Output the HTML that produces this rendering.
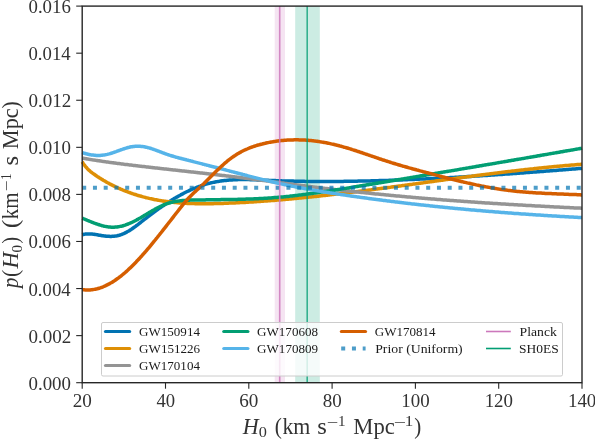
<!DOCTYPE html>
<html><head><meta charset="utf-8"><style>
html,body{margin:0;padding:0;background:#fff;}
body{width:595px;height:439px;overflow:hidden;font-family:"Liberation Serif", serif;}
svg{display:block;will-change:transform;}
</style></head><body>
<svg width="595" height="439" viewBox="0 0 595 439">
<rect width="595" height="439" fill="#fff"/>
<rect x="274.7" y="6.1" width="10.300000000000011" height="376.59999999999997" fill="#cc78bc" fill-opacity="0.2"/>
<rect x="295.2" y="6.1" width="24.600000000000023" height="376.59999999999997" fill="#029e73" fill-opacity="0.2"/>
<g fill="none" stroke-width="3.5" stroke-linejoin="round" stroke-linecap="butt">
<path d="M82.2,234.8 L83.2,234.5 L84.2,234.3 L85.2,234.1 L86.2,234.0 L87.2,233.9 L88.2,233.9 L89.2,233.9 L90.2,233.9 L91.2,234.0 L92.2,234.1 L93.2,234.2 L94.2,234.3 L95.2,234.5 L96.2,234.6 L97.2,234.8 L98.2,235.0 L99.2,235.2 L100.2,235.3 L101.2,235.5 L102.2,235.7 L103.2,235.8 L104.2,235.9 L105.2,236.0 L106.2,236.2 L107.2,236.2 L108.2,236.3 L109.2,236.3 L110.2,236.4 L111.2,236.4 L112.2,236.3 L113.2,236.3 L114.2,236.2 L115.2,236.1 L116.2,235.9 L117.2,235.8 L118.2,235.5 L119.2,235.3 L120.2,235.0 L121.2,234.6 L122.2,234.3 L123.2,233.8 L124.2,233.4 L125.2,232.9 L126.2,232.4 L127.2,231.8 L128.2,231.3 L129.2,230.7 L130.2,230.0 L131.2,229.4 L132.2,228.7 L133.2,228.0 L134.2,227.3 L135.2,226.6 L136.2,225.8 L137.2,225.1 L138.2,224.3 L139.2,223.5 L140.2,222.8 L141.2,222.0 L142.2,221.2 L143.2,220.4 L144.2,219.6 L145.2,218.9 L146.2,218.1 L147.2,217.3 L148.2,216.5 L149.2,215.8 L150.2,215.0 L151.2,214.3 L152.2,213.5 L153.2,212.8 L154.2,212.0 L155.2,211.3 L156.2,210.6 L157.2,209.9 L158.2,209.1 L159.2,208.4 L160.2,207.7 L161.2,207.0 L162.2,206.3 L163.2,205.7 L164.2,205.0 L165.2,204.3 L166.2,203.7 L167.2,203.0 L168.2,202.4 L169.2,201.7 L170.2,201.1 L171.2,200.5 L172.2,199.8 L173.2,199.2 L174.2,198.6 L175.2,198.0 L176.2,197.4 L177.2,196.9 L178.2,196.3 L179.2,195.7 L180.2,195.2 L181.2,194.6 L182.2,194.1 L183.2,193.6 L184.2,193.0 L185.2,192.5 L186.2,192.0 L187.2,191.5 L188.2,191.1 L189.2,190.6 L190.2,190.1 L191.2,189.7 L192.2,189.2 L193.2,188.8 L194.2,188.4 L195.2,188.0 L196.2,187.6 L197.2,187.2 L198.2,186.8 L199.2,186.4 L200.2,186.1 L201.2,185.7 L202.2,185.4 L203.2,185.0 L204.2,184.7 L205.2,184.4 L206.2,184.1 L207.2,183.8 L208.2,183.6 L209.2,183.3 L210.2,183.1 L211.2,182.8 L212.2,182.6 L213.2,182.4 L214.2,182.2 L215.2,182.0 L216.2,181.8 L217.2,181.6 L218.2,181.4 L219.2,181.3 L220.2,181.1 L221.2,181.0 L222.2,180.8 L223.2,180.7 L224.2,180.6 L225.2,180.5 L226.2,180.4 L227.2,180.3 L228.2,180.2 L229.2,180.1 L230.2,180.0 L231.2,180.0 L232.2,179.9 L233.2,179.8 L234.2,179.8 L235.2,179.8 L236.2,179.7 L237.2,179.7 L238.2,179.6 L239.2,179.6 L240.2,179.6 L241.2,179.6 L242.2,179.6 L243.2,179.6 L244.2,179.6 L245.2,179.6 L246.2,179.6 L247.2,179.6 L248.2,179.6 L249.2,179.6 L250.2,179.7 L251.2,179.7 L252.2,179.7 L253.2,179.7 L254.2,179.8 L255.2,179.8 L256.2,179.8 L257.2,179.9 L258.2,179.9 L259.2,180.0 L260.2,180.0 L261.2,180.0 L262.2,180.1 L263.2,180.1 L264.2,180.2 L265.2,180.2 L266.2,180.3 L267.2,180.3 L268.2,180.3 L269.2,180.4 L270.2,180.4 L271.2,180.5 L272.2,180.5 L273.2,180.5 L274.2,180.6 L275.2,180.6 L276.2,180.7 L277.2,180.7 L278.2,180.7 L279.2,180.8 L280.2,180.8 L281.2,180.8 L282.2,180.9 L283.2,180.9 L284.2,180.9 L285.2,180.9 L286.2,181.0 L287.2,181.0 L288.2,181.0 L289.2,181.1 L290.2,181.1 L291.2,181.1 L292.2,181.1 L293.2,181.1 L294.2,181.2 L295.2,181.2 L296.2,181.2 L297.2,181.2 L298.2,181.2 L299.2,181.3 L300.2,181.3 L301.2,181.3 L302.2,181.3 L303.2,181.3 L304.2,181.3 L305.2,181.4 L306.2,181.4 L307.2,181.4 L308.2,181.4 L309.2,181.4 L310.2,181.4 L311.2,181.4 L312.2,181.4 L313.2,181.4 L314.2,181.4 L315.2,181.4 L316.2,181.5 L317.2,181.5 L318.2,181.5 L319.2,181.5 L320.2,181.5 L321.2,181.5 L322.2,181.5 L323.2,181.5 L324.2,181.5 L325.2,181.5 L326.2,181.5 L327.2,181.5 L328.2,181.5 L329.2,181.5 L330.2,181.5 L331.2,181.5 L332.2,181.5 L333.2,181.4 L334.2,181.4 L335.2,181.4 L336.2,181.4 L337.2,181.4 L338.2,181.4 L339.2,181.4 L340.2,181.4 L341.2,181.4 L342.2,181.4 L343.2,181.4 L344.2,181.3 L345.2,181.3 L346.2,181.3 L347.2,181.3 L348.2,181.3 L349.2,181.3 L350.2,181.3 L351.2,181.3 L352.2,181.2 L353.2,181.2 L354.2,181.2 L355.2,181.2 L356.2,181.2 L357.2,181.2 L358.2,181.1 L359.2,181.1 L360.2,181.1 L361.2,181.1 L362.2,181.1 L363.2,181.0 L364.2,181.0 L365.2,181.0 L366.2,181.0 L367.2,180.9 L368.2,180.9 L369.2,180.9 L370.2,180.9 L371.2,180.8 L372.2,180.8 L373.2,180.8 L374.2,180.8 L375.2,180.7 L376.2,180.7 L377.2,180.7 L378.2,180.7 L379.2,180.6 L380.2,180.6 L381.2,180.6 L382.2,180.5 L383.2,180.5 L384.2,180.5 L385.2,180.5 L386.2,180.4 L387.2,180.4 L388.2,180.4 L389.2,180.3 L390.2,180.3 L391.2,180.3 L392.2,180.2 L393.2,180.2 L394.2,180.2 L395.2,180.1 L396.2,180.1 L397.2,180.0 L398.2,180.0 L399.2,180.0 L400.2,179.9 L401.2,179.9 L402.2,179.9 L403.2,179.8 L404.2,179.8 L405.2,179.7 L406.2,179.7 L407.2,179.7 L408.2,179.6 L409.2,179.6 L410.2,179.5 L411.2,179.5 L412.2,179.5 L413.2,179.4 L414.2,179.4 L415.2,179.3 L416.2,179.3 L417.2,179.2 L418.2,179.2 L419.2,179.2 L420.2,179.1 L421.2,179.1 L422.2,179.0 L423.2,179.0 L424.2,178.9 L425.2,178.9 L426.2,178.8 L427.2,178.8 L428.2,178.7 L429.2,178.7 L430.2,178.6 L431.2,178.6 L432.2,178.5 L433.2,178.5 L434.2,178.4 L435.2,178.4 L436.2,178.3 L437.2,178.3 L438.2,178.2 L439.2,178.2 L440.2,178.1 L441.2,178.1 L442.2,178.0 L443.2,178.0 L444.2,177.9 L445.2,177.9 L446.2,177.8 L447.2,177.8 L448.2,177.7 L449.2,177.7 L450.2,177.6 L451.2,177.5 L452.2,177.5 L453.2,177.4 L454.2,177.4 L455.2,177.3 L456.2,177.3 L457.2,177.2 L458.2,177.2 L459.2,177.1 L460.2,177.0 L461.2,177.0 L462.2,176.9 L463.2,176.9 L464.2,176.8 L465.2,176.7 L466.2,176.7 L467.2,176.6 L468.2,176.6 L469.2,176.5 L470.2,176.4 L471.2,176.4 L472.2,176.3 L473.2,176.3 L474.2,176.2 L475.2,176.1 L476.2,176.1 L477.2,176.0 L478.2,175.9 L479.2,175.9 L480.2,175.8 L481.2,175.8 L482.2,175.7 L483.2,175.6 L484.2,175.6 L485.2,175.5 L486.2,175.4 L487.2,175.4 L488.2,175.3 L489.2,175.2 L490.2,175.2 L491.2,175.1 L492.2,175.0 L493.2,175.0 L494.2,174.9 L495.2,174.8 L496.2,174.8 L497.2,174.7 L498.2,174.6 L499.2,174.6 L500.2,174.5 L501.2,174.4 L502.2,174.4 L503.2,174.3 L504.2,174.2 L505.2,174.1 L506.2,174.1 L507.2,174.0 L508.2,173.9 L509.2,173.9 L510.2,173.8 L511.2,173.7 L512.2,173.7 L513.2,173.6 L514.2,173.5 L515.2,173.4 L516.2,173.4 L517.2,173.3 L518.2,173.2 L519.2,173.2 L520.2,173.1 L521.2,173.0 L522.2,172.9 L523.2,172.9 L524.2,172.8 L525.2,172.7 L526.2,172.6 L527.2,172.6 L528.2,172.5 L529.2,172.4 L530.2,172.3 L531.2,172.3 L532.2,172.2 L533.2,172.1 L534.2,172.0 L535.2,172.0 L536.2,171.9 L537.2,171.8 L538.2,171.7 L539.2,171.7 L540.2,171.6 L541.2,171.5 L542.2,171.4 L543.2,171.4 L544.2,171.3 L545.2,171.2 L546.2,171.1 L547.2,171.1 L548.2,171.0 L549.2,170.9 L550.2,170.8 L551.2,170.8 L552.2,170.7 L553.2,170.6 L554.2,170.5 L555.2,170.4 L556.2,170.4 L557.2,170.3 L558.2,170.2 L559.2,170.1 L560.2,170.1 L561.2,170.0 L562.2,169.9 L563.2,169.8 L564.2,169.7 L565.2,169.7 L566.2,169.6 L567.2,169.5 L568.2,169.4 L569.2,169.3 L570.2,169.3 L571.2,169.2 L572.2,169.1 L573.2,169.0 L574.2,168.9 L575.2,168.9 L576.2,168.8 L577.2,168.7 L578.2,168.6 L579.2,168.5 L580.2,168.5 L581.2,168.4 L582.0,168.3" stroke="#0173b2"/>
<path d="M82.2,161.8 L83.2,163.4 L84.2,164.8 L85.2,166.1 L86.2,167.3 L87.2,168.4 L88.2,169.4 L89.2,170.4 L90.2,171.3 L91.2,172.1 L92.2,172.9 L93.2,173.6 L94.2,174.3 L95.2,175.0 L96.2,175.7 L97.2,176.4 L98.2,177.0 L99.2,177.7 L100.2,178.3 L101.2,178.9 L102.2,179.5 L103.2,180.2 L104.2,180.7 L105.2,181.3 L106.2,181.9 L107.2,182.5 L108.2,183.0 L109.2,183.6 L110.2,184.1 L111.2,184.6 L112.2,185.1 L113.2,185.6 L114.2,186.1 L115.2,186.6 L116.2,187.1 L117.2,187.5 L118.2,188.0 L119.2,188.4 L120.2,188.9 L121.2,189.3 L122.2,189.7 L123.2,190.2 L124.2,190.6 L125.2,191.0 L126.2,191.3 L127.2,191.7 L128.2,192.1 L129.2,192.5 L130.2,192.8 L131.2,193.2 L132.2,193.5 L133.2,193.9 L134.2,194.2 L135.2,194.5 L136.2,194.8 L137.2,195.2 L138.2,195.5 L139.2,195.8 L140.2,196.0 L141.2,196.3 L142.2,196.6 L143.2,196.9 L144.2,197.1 L145.2,197.4 L146.2,197.7 L147.2,197.9 L148.2,198.1 L149.2,198.4 L150.2,198.6 L151.2,198.8 L152.2,199.0 L153.2,199.2 L154.2,199.5 L155.2,199.7 L156.2,199.8 L157.2,200.0 L158.2,200.2 L159.2,200.4 L160.2,200.6 L161.2,200.7 L162.2,200.9 L163.2,201.0 L164.2,201.2 L165.2,201.3 L166.2,201.5 L167.2,201.6 L168.2,201.7 L169.2,201.9 L170.2,202.0 L171.2,202.1 L172.2,202.2 L173.2,202.3 L174.2,202.4 L175.2,202.5 L176.2,202.6 L177.2,202.7 L178.2,202.8 L179.2,202.9 L180.2,202.9 L181.2,203.0 L182.2,203.1 L183.2,203.2 L184.2,203.2 L185.2,203.3 L186.2,203.3 L187.2,203.4 L188.2,203.4 L189.2,203.5 L190.2,203.5 L191.2,203.5 L192.2,203.6 L193.2,203.6 L194.2,203.6 L195.2,203.7 L196.2,203.7 L197.2,203.7 L198.2,203.7 L199.2,203.7 L200.2,203.7 L201.2,203.7 L202.2,203.8 L203.2,203.8 L204.2,203.8 L205.2,203.8 L206.2,203.7 L207.2,203.7 L208.2,203.7 L209.2,203.7 L210.2,203.7 L211.2,203.7 L212.2,203.7 L213.2,203.7 L214.2,203.6 L215.2,203.6 L216.2,203.6 L217.2,203.6 L218.2,203.5 L219.2,203.5 L220.2,203.5 L221.2,203.4 L222.2,203.4 L223.2,203.4 L224.2,203.3 L225.2,203.3 L226.2,203.3 L227.2,203.2 L228.2,203.2 L229.2,203.1 L230.2,203.1 L231.2,203.1 L232.2,203.0 L233.2,203.0 L234.2,202.9 L235.2,202.9 L236.2,202.8 L237.2,202.8 L238.2,202.7 L239.2,202.7 L240.2,202.6 L241.2,202.6 L242.2,202.5 L243.2,202.5 L244.2,202.4 L245.2,202.4 L246.2,202.3 L247.2,202.2 L248.2,202.2 L249.2,202.1 L250.2,202.1 L251.2,202.0 L252.2,201.9 L253.2,201.9 L254.2,201.8 L255.2,201.7 L256.2,201.7 L257.2,201.6 L258.2,201.5 L259.2,201.5 L260.2,201.4 L261.2,201.3 L262.2,201.3 L263.2,201.2 L264.2,201.1 L265.2,201.0 L266.2,201.0 L267.2,200.9 L268.2,200.8 L269.2,200.7 L270.2,200.7 L271.2,200.6 L272.2,200.5 L273.2,200.4 L274.2,200.4 L275.2,200.3 L276.2,200.2 L277.2,200.1 L278.2,200.0 L279.2,199.9 L280.2,199.9 L281.2,199.8 L282.2,199.7 L283.2,199.6 L284.2,199.5 L285.2,199.4 L286.2,199.3 L287.2,199.2 L288.2,199.2 L289.2,199.1 L290.2,199.0 L291.2,198.9 L292.2,198.8 L293.2,198.7 L294.2,198.6 L295.2,198.5 L296.2,198.4 L297.2,198.3 L298.2,198.2 L299.2,198.1 L300.2,198.0 L301.2,197.9 L302.2,197.8 L303.2,197.7 L304.2,197.6 L305.2,197.5 L306.2,197.4 L307.2,197.3 L308.2,197.2 L309.2,197.1 L310.2,197.0 L311.2,196.9 L312.2,196.8 L313.2,196.7 L314.2,196.6 L315.2,196.5 L316.2,196.4 L317.2,196.3 L318.2,196.2 L319.2,196.0 L320.2,195.9 L321.2,195.8 L322.2,195.7 L323.2,195.6 L324.2,195.5 L325.2,195.4 L326.2,195.3 L327.2,195.2 L328.2,195.0 L329.2,194.9 L330.2,194.8 L331.2,194.7 L332.2,194.6 L333.2,194.5 L334.2,194.3 L335.2,194.2 L336.2,194.1 L337.2,194.0 L338.2,193.9 L339.2,193.8 L340.2,193.6 L341.2,193.5 L342.2,193.4 L343.2,193.3 L344.2,193.2 L345.2,193.0 L346.2,192.9 L347.2,192.8 L348.2,192.7 L349.2,192.6 L350.2,192.4 L351.2,192.3 L352.2,192.2 L353.2,192.1 L354.2,191.9 L355.2,191.8 L356.2,191.7 L357.2,191.6 L358.2,191.4 L359.2,191.3 L360.2,191.2 L361.2,191.0 L362.2,190.9 L363.2,190.8 L364.2,190.7 L365.2,190.5 L366.2,190.4 L367.2,190.3 L368.2,190.2 L369.2,190.0 L370.2,189.9 L371.2,189.8 L372.2,189.6 L373.2,189.5 L374.2,189.4 L375.2,189.2 L376.2,189.1 L377.2,189.0 L378.2,188.8 L379.2,188.7 L380.2,188.6 L381.2,188.5 L382.2,188.3 L383.2,188.2 L384.2,188.1 L385.2,187.9 L386.2,187.8 L387.2,187.7 L388.2,187.5 L389.2,187.4 L390.2,187.3 L391.2,187.1 L392.2,187.0 L393.2,186.8 L394.2,186.7 L395.2,186.6 L396.2,186.4 L397.2,186.3 L398.2,186.2 L399.2,186.0 L400.2,185.9 L401.2,185.8 L402.2,185.6 L403.2,185.5 L404.2,185.4 L405.2,185.2 L406.2,185.1 L407.2,184.9 L408.2,184.8 L409.2,184.7 L410.2,184.5 L411.2,184.4 L412.2,184.3 L413.2,184.1 L414.2,184.0 L415.2,183.9 L416.2,183.7 L417.2,183.6 L418.2,183.4 L419.2,183.3 L420.2,183.2 L421.2,183.0 L422.2,182.9 L423.2,182.8 L424.2,182.6 L425.2,182.5 L426.2,182.3 L427.2,182.2 L428.2,182.1 L429.2,181.9 L430.2,181.8 L431.2,181.7 L432.2,181.5 L433.2,181.4 L434.2,181.3 L435.2,181.1 L436.2,181.0 L437.2,180.8 L438.2,180.7 L439.2,180.6 L440.2,180.4 L441.2,180.3 L442.2,180.2 L443.2,180.0 L444.2,179.9 L445.2,179.7 L446.2,179.6 L447.2,179.5 L448.2,179.3 L449.2,179.2 L450.2,179.1 L451.2,178.9 L452.2,178.8 L453.2,178.7 L454.2,178.5 L455.2,178.4 L456.2,178.3 L457.2,178.1 L458.2,178.0 L459.2,177.9 L460.2,177.7 L461.2,177.6 L462.2,177.5 L463.2,177.3 L464.2,177.2 L465.2,177.1 L466.2,176.9 L467.2,176.8 L468.2,176.7 L469.2,176.5 L470.2,176.4 L471.2,176.3 L472.2,176.1 L473.2,176.0 L474.2,175.9 L475.2,175.7 L476.2,175.6 L477.2,175.5 L478.2,175.3 L479.2,175.2 L480.2,175.1 L481.2,175.0 L482.2,174.8 L483.2,174.7 L484.2,174.6 L485.2,174.4 L486.2,174.3 L487.2,174.2 L488.2,174.1 L489.2,173.9 L490.2,173.8 L491.2,173.7 L492.2,173.6 L493.2,173.4 L494.2,173.3 L495.2,173.2 L496.2,173.1 L497.2,172.9 L498.2,172.8 L499.2,172.7 L500.2,172.6 L501.2,172.4 L502.2,172.3 L503.2,172.2 L504.2,172.1 L505.2,172.0 L506.2,171.8 L507.2,171.7 L508.2,171.6 L509.2,171.5 L510.2,171.4 L511.2,171.2 L512.2,171.1 L513.2,171.0 L514.2,170.9 L515.2,170.8 L516.2,170.7 L517.2,170.5 L518.2,170.4 L519.2,170.3 L520.2,170.2 L521.2,170.1 L522.2,170.0 L523.2,169.9 L524.2,169.7 L525.2,169.6 L526.2,169.5 L527.2,169.4 L528.2,169.3 L529.2,169.2 L530.2,169.1 L531.2,169.0 L532.2,168.9 L533.2,168.8 L534.2,168.6 L535.2,168.5 L536.2,168.4 L537.2,168.3 L538.2,168.2 L539.2,168.1 L540.2,168.0 L541.2,167.9 L542.2,167.8 L543.2,167.7 L544.2,167.6 L545.2,167.5 L546.2,167.4 L547.2,167.3 L548.2,167.2 L549.2,167.1 L550.2,167.0 L551.2,166.9 L552.2,166.8 L553.2,166.7 L554.2,166.6 L555.2,166.5 L556.2,166.4 L557.2,166.3 L558.2,166.3 L559.2,166.2 L560.2,166.1 L561.2,166.0 L562.2,165.9 L563.2,165.8 L564.2,165.7 L565.2,165.6 L566.2,165.5 L567.2,165.4 L568.2,165.4 L569.2,165.3 L570.2,165.2 L571.2,165.1 L572.2,165.0 L573.2,164.9 L574.2,164.9 L575.2,164.8 L576.2,164.7 L577.2,164.6 L578.2,164.5 L579.2,164.5 L580.2,164.4 L581.2,164.3 L582.0,164.3" stroke="#de8f05"/>
<path d="M82.2,158.1 L83.2,158.3 L84.2,158.5 L85.2,158.6 L86.2,158.8 L87.2,159.0 L88.2,159.1 L89.2,159.3 L90.2,159.4 L91.2,159.6 L92.2,159.8 L93.2,159.9 L94.2,160.1 L95.2,160.2 L96.2,160.4 L97.2,160.5 L98.2,160.7 L99.2,160.8 L100.2,161.0 L101.2,161.1 L102.2,161.3 L103.2,161.4 L104.2,161.6 L105.2,161.7 L106.2,161.9 L107.2,162.0 L108.2,162.1 L109.2,162.3 L110.2,162.4 L111.2,162.6 L112.2,162.7 L113.2,162.8 L114.2,163.0 L115.2,163.1 L116.2,163.2 L117.2,163.4 L118.2,163.5 L119.2,163.6 L120.2,163.7 L121.2,163.9 L122.2,164.0 L123.2,164.1 L124.2,164.3 L125.2,164.4 L126.2,164.5 L127.2,164.6 L128.2,164.7 L129.2,164.9 L130.2,165.0 L131.2,165.1 L132.2,165.2 L133.2,165.4 L134.2,165.5 L135.2,165.6 L136.2,165.7 L137.2,165.8 L138.2,165.9 L139.2,166.1 L140.2,166.2 L141.2,166.3 L142.2,166.4 L143.2,166.5 L144.2,166.6 L145.2,166.7 L146.2,166.9 L147.2,167.0 L148.2,167.1 L149.2,167.2 L150.2,167.3 L151.2,167.4 L152.2,167.5 L153.2,167.7 L154.2,167.8 L155.2,167.9 L156.2,168.0 L157.2,168.1 L158.2,168.2 L159.2,168.3 L160.2,168.4 L161.2,168.6 L162.2,168.7 L163.2,168.8 L164.2,168.9 L165.2,169.0 L166.2,169.1 L167.2,169.2 L168.2,169.3 L169.2,169.4 L170.2,169.6 L171.2,169.7 L172.2,169.8 L173.2,169.9 L174.2,170.0 L175.2,170.1 L176.2,170.2 L177.2,170.3 L178.2,170.4 L179.2,170.5 L180.2,170.7 L181.2,170.8 L182.2,170.9 L183.2,171.0 L184.2,171.1 L185.2,171.2 L186.2,171.3 L187.2,171.4 L188.2,171.5 L189.2,171.7 L190.2,171.8 L191.2,171.9 L192.2,172.0 L193.2,172.1 L194.2,172.2 L195.2,172.3 L196.2,172.4 L197.2,172.5 L198.2,172.7 L199.2,172.8 L200.2,172.9 L201.2,173.0 L202.2,173.1 L203.2,173.2 L204.2,173.3 L205.2,173.4 L206.2,173.5 L207.2,173.7 L208.2,173.8 L209.2,173.9 L210.2,174.0 L211.2,174.1 L212.2,174.2 L213.2,174.3 L214.2,174.5 L215.2,174.6 L216.2,174.7 L217.2,174.8 L218.2,174.9 L219.2,175.0 L220.2,175.2 L221.2,175.3 L222.2,175.4 L223.2,175.5 L224.2,175.6 L225.2,175.7 L226.2,175.9 L227.2,176.0 L228.2,176.1 L229.2,176.2 L230.2,176.3 L231.2,176.4 L232.2,176.6 L233.2,176.7 L234.2,176.8 L235.2,176.9 L236.2,177.0 L237.2,177.2 L238.2,177.3 L239.2,177.4 L240.2,177.5 L241.2,177.7 L242.2,177.8 L243.2,177.9 L244.2,178.0 L245.2,178.2 L246.2,178.3 L247.2,178.4 L248.2,178.5 L249.2,178.7 L250.2,178.8 L251.2,178.9 L252.2,179.0 L253.2,179.2 L254.2,179.3 L255.2,179.4 L256.2,179.6 L257.2,179.7 L258.2,179.8 L259.2,179.9 L260.2,180.1 L261.2,180.2 L262.2,180.3 L263.2,180.5 L264.2,180.6 L265.2,180.7 L266.2,180.9 L267.2,181.0 L268.2,181.1 L269.2,181.3 L270.2,181.4 L271.2,181.5 L272.2,181.7 L273.2,181.8 L274.2,181.9 L275.2,182.1 L276.2,182.2 L277.2,182.3 L278.2,182.5 L279.2,182.6 L280.2,182.7 L281.2,182.9 L282.2,183.0 L283.2,183.1 L284.2,183.2 L285.2,183.4 L286.2,183.5 L287.2,183.6 L288.2,183.8 L289.2,183.9 L290.2,184.0 L291.2,184.2 L292.2,184.3 L293.2,184.4 L294.2,184.6 L295.2,184.7 L296.2,184.8 L297.2,184.9 L298.2,185.1 L299.2,185.2 L300.2,185.3 L301.2,185.4 L302.2,185.6 L303.2,185.7 L304.2,185.8 L305.2,186.0 L306.2,186.1 L307.2,186.2 L308.2,186.3 L309.2,186.5 L310.2,186.6 L311.2,186.7 L312.2,186.8 L313.2,186.9 L314.2,187.1 L315.2,187.2 L316.2,187.3 L317.2,187.4 L318.2,187.6 L319.2,187.7 L320.2,187.8 L321.2,187.9 L322.2,188.0 L323.2,188.2 L324.2,188.3 L325.2,188.4 L326.2,188.5 L327.2,188.6 L328.2,188.7 L329.2,188.9 L330.2,189.0 L331.2,189.1 L332.2,189.2 L333.2,189.3 L334.2,189.4 L335.2,189.6 L336.2,189.7 L337.2,189.8 L338.2,189.9 L339.2,190.0 L340.2,190.1 L341.2,190.2 L342.2,190.4 L343.2,190.5 L344.2,190.6 L345.2,190.7 L346.2,190.8 L347.2,190.9 L348.2,191.0 L349.2,191.1 L350.2,191.2 L351.2,191.3 L352.2,191.5 L353.2,191.6 L354.2,191.7 L355.2,191.8 L356.2,191.9 L357.2,192.0 L358.2,192.1 L359.2,192.2 L360.2,192.3 L361.2,192.4 L362.2,192.5 L363.2,192.6 L364.2,192.7 L365.2,192.8 L366.2,192.9 L367.2,193.0 L368.2,193.1 L369.2,193.2 L370.2,193.3 L371.2,193.4 L372.2,193.6 L373.2,193.7 L374.2,193.8 L375.2,193.9 L376.2,194.0 L377.2,194.1 L378.2,194.1 L379.2,194.2 L380.2,194.3 L381.2,194.4 L382.2,194.5 L383.2,194.6 L384.2,194.7 L385.2,194.8 L386.2,194.9 L387.2,195.0 L388.2,195.1 L389.2,195.2 L390.2,195.3 L391.2,195.4 L392.2,195.5 L393.2,195.6 L394.2,195.7 L395.2,195.8 L396.2,195.9 L397.2,196.0 L398.2,196.1 L399.2,196.1 L400.2,196.2 L401.2,196.3 L402.2,196.4 L403.2,196.5 L404.2,196.6 L405.2,196.7 L406.2,196.8 L407.2,196.9 L408.2,197.0 L409.2,197.0 L410.2,197.1 L411.2,197.2 L412.2,197.3 L413.2,197.4 L414.2,197.5 L415.2,197.6 L416.2,197.7 L417.2,197.7 L418.2,197.8 L419.2,197.9 L420.2,198.0 L421.2,198.1 L422.2,198.2 L423.2,198.2 L424.2,198.3 L425.2,198.4 L426.2,198.5 L427.2,198.6 L428.2,198.7 L429.2,198.7 L430.2,198.8 L431.2,198.9 L432.2,199.0 L433.2,199.1 L434.2,199.1 L435.2,199.2 L436.2,199.3 L437.2,199.4 L438.2,199.5 L439.2,199.5 L440.2,199.6 L441.2,199.7 L442.2,199.8 L443.2,199.9 L444.2,199.9 L445.2,200.0 L446.2,200.1 L447.2,200.2 L448.2,200.2 L449.2,200.3 L450.2,200.4 L451.2,200.5 L452.2,200.5 L453.2,200.6 L454.2,200.7 L455.2,200.8 L456.2,200.8 L457.2,200.9 L458.2,201.0 L459.2,201.1 L460.2,201.1 L461.2,201.2 L462.2,201.3 L463.2,201.3 L464.2,201.4 L465.2,201.5 L466.2,201.6 L467.2,201.6 L468.2,201.7 L469.2,201.8 L470.2,201.8 L471.2,201.9 L472.2,202.0 L473.2,202.0 L474.2,202.1 L475.2,202.2 L476.2,202.3 L477.2,202.3 L478.2,202.4 L479.2,202.5 L480.2,202.5 L481.2,202.6 L482.2,202.7 L483.2,202.7 L484.2,202.8 L485.2,202.9 L486.2,202.9 L487.2,203.0 L488.2,203.1 L489.2,203.1 L490.2,203.2 L491.2,203.2 L492.2,203.3 L493.2,203.4 L494.2,203.4 L495.2,203.5 L496.2,203.6 L497.2,203.6 L498.2,203.7 L499.2,203.8 L500.2,203.8 L501.2,203.9 L502.2,203.9 L503.2,204.0 L504.2,204.1 L505.2,204.1 L506.2,204.2 L507.2,204.2 L508.2,204.3 L509.2,204.4 L510.2,204.4 L511.2,204.5 L512.2,204.5 L513.2,204.6 L514.2,204.7 L515.2,204.7 L516.2,204.8 L517.2,204.8 L518.2,204.9 L519.2,205.0 L520.2,205.0 L521.2,205.1 L522.2,205.1 L523.2,205.2 L524.2,205.2 L525.2,205.3 L526.2,205.4 L527.2,205.4 L528.2,205.5 L529.2,205.5 L530.2,205.6 L531.2,205.6 L532.2,205.7 L533.2,205.8 L534.2,205.8 L535.2,205.9 L536.2,205.9 L537.2,206.0 L538.2,206.0 L539.2,206.1 L540.2,206.1 L541.2,206.2 L542.2,206.2 L543.2,206.3 L544.2,206.3 L545.2,206.4 L546.2,206.5 L547.2,206.5 L548.2,206.6 L549.2,206.6 L550.2,206.7 L551.2,206.7 L552.2,206.8 L553.2,206.8 L554.2,206.9 L555.2,206.9 L556.2,207.0 L557.2,207.0 L558.2,207.1 L559.2,207.1 L560.2,207.2 L561.2,207.2 L562.2,207.3 L563.2,207.3 L564.2,207.4 L565.2,207.4 L566.2,207.5 L567.2,207.5 L568.2,207.6 L569.2,207.6 L570.2,207.7 L571.2,207.7 L572.2,207.8 L573.2,207.8 L574.2,207.9 L575.2,207.9 L576.2,208.0 L577.2,208.0 L578.2,208.1 L579.2,208.1 L580.2,208.1 L581.2,208.2 L582.0,208.2" stroke="#949494"/>
<path d="M82.2,218.2 L83.2,218.6 L84.2,219.0 L85.2,219.4 L86.2,219.8 L87.2,220.3 L88.2,220.7 L89.2,221.1 L90.2,221.5 L91.2,221.9 L92.2,222.3 L93.2,222.7 L94.2,223.1 L95.2,223.4 L96.2,223.8 L97.2,224.1 L98.2,224.5 L99.2,224.8 L100.2,225.1 L101.2,225.4 L102.2,225.7 L103.2,225.9 L104.2,226.2 L105.2,226.4 L106.2,226.6 L107.2,226.7 L108.2,226.9 L109.2,227.0 L110.2,227.1 L111.2,227.2 L112.2,227.2 L113.2,227.2 L114.2,227.2 L115.2,227.1 L116.2,227.1 L117.2,227.0 L118.2,226.8 L119.2,226.6 L120.2,226.4 L121.2,226.2 L122.2,226.0 L123.2,225.7 L124.2,225.4 L125.2,225.1 L126.2,224.7 L127.2,224.3 L128.2,224.0 L129.2,223.5 L130.2,223.1 L131.2,222.7 L132.2,222.2 L133.2,221.7 L134.2,221.2 L135.2,220.7 L136.2,220.2 L137.2,219.6 L138.2,219.1 L139.2,218.5 L140.2,218.0 L141.2,217.4 L142.2,216.8 L143.2,216.2 L144.2,215.6 L145.2,215.0 L146.2,214.4 L147.2,213.8 L148.2,213.2 L149.2,212.6 L150.2,212.0 L151.2,211.4 L152.2,210.8 L153.2,210.2 L154.2,209.7 L155.2,209.1 L156.2,208.6 L157.2,208.0 L158.2,207.5 L159.2,207.0 L160.2,206.5 L161.2,206.0 L162.2,205.6 L163.2,205.1 L164.2,204.7 L165.2,204.3 L166.2,203.9 L167.2,203.6 L168.2,203.3 L169.2,203.0 L170.2,202.7 L171.2,202.4 L172.2,202.2 L173.2,201.9 L174.2,201.7 L175.2,201.5 L176.2,201.4 L177.2,201.2 L178.2,201.1 L179.2,200.9 L180.2,200.8 L181.2,200.7 L182.2,200.6 L183.2,200.5 L184.2,200.4 L185.2,200.4 L186.2,200.3 L187.2,200.3 L188.2,200.2 L189.2,200.2 L190.2,200.1 L191.2,200.1 L192.2,200.1 L193.2,200.1 L194.2,200.0 L195.2,200.0 L196.2,200.0 L197.2,200.0 L198.2,200.0 L199.2,200.0 L200.2,199.9 L201.2,199.9 L202.2,199.9 L203.2,199.9 L204.2,199.9 L205.2,199.9 L206.2,199.8 L207.2,199.8 L208.2,199.8 L209.2,199.8 L210.2,199.8 L211.2,199.8 L212.2,199.8 L213.2,199.7 L214.2,199.7 L215.2,199.7 L216.2,199.7 L217.2,199.7 L218.2,199.7 L219.2,199.7 L220.2,199.7 L221.2,199.6 L222.2,199.6 L223.2,199.6 L224.2,199.6 L225.2,199.6 L226.2,199.6 L227.2,199.6 L228.2,199.5 L229.2,199.5 L230.2,199.5 L231.2,199.5 L232.2,199.5 L233.2,199.5 L234.2,199.4 L235.2,199.4 L236.2,199.4 L237.2,199.4 L238.2,199.3 L239.2,199.3 L240.2,199.3 L241.2,199.3 L242.2,199.2 L243.2,199.2 L244.2,199.2 L245.2,199.2 L246.2,199.1 L247.2,199.1 L248.2,199.1 L249.2,199.0 L250.2,199.0 L251.2,199.0 L252.2,198.9 L253.2,198.9 L254.2,198.8 L255.2,198.8 L256.2,198.8 L257.2,198.7 L258.2,198.7 L259.2,198.6 L260.2,198.6 L261.2,198.5 L262.2,198.5 L263.2,198.4 L264.2,198.3 L265.2,198.3 L266.2,198.2 L267.2,198.2 L268.2,198.1 L269.2,198.0 L270.2,197.9 L271.2,197.9 L272.2,197.8 L273.2,197.7 L274.2,197.6 L275.2,197.6 L276.2,197.5 L277.2,197.4 L278.2,197.3 L279.2,197.2 L280.2,197.1 L281.2,197.0 L282.2,197.0 L283.2,196.9 L284.2,196.8 L285.2,196.7 L286.2,196.6 L287.2,196.5 L288.2,196.4 L289.2,196.3 L290.2,196.1 L291.2,196.0 L292.2,195.9 L293.2,195.8 L294.2,195.7 L295.2,195.6 L296.2,195.5 L297.2,195.4 L298.2,195.2 L299.2,195.1 L300.2,195.0 L301.2,194.9 L302.2,194.7 L303.2,194.6 L304.2,194.5 L305.2,194.4 L306.2,194.2 L307.2,194.1 L308.2,194.0 L309.2,193.8 L310.2,193.7 L311.2,193.6 L312.2,193.4 L313.2,193.3 L314.2,193.1 L315.2,193.0 L316.2,192.9 L317.2,192.7 L318.2,192.6 L319.2,192.4 L320.2,192.3 L321.2,192.1 L322.2,192.0 L323.2,191.8 L324.2,191.7 L325.2,191.5 L326.2,191.4 L327.2,191.2 L328.2,191.1 L329.2,190.9 L330.2,190.8 L331.2,190.6 L332.2,190.5 L333.2,190.3 L334.2,190.2 L335.2,190.0 L336.2,189.8 L337.2,189.7 L338.2,189.5 L339.2,189.4 L340.2,189.2 L341.2,189.1 L342.2,188.9 L343.2,188.7 L344.2,188.6 L345.2,188.4 L346.2,188.3 L347.2,188.1 L348.2,187.9 L349.2,187.8 L350.2,187.6 L351.2,187.4 L352.2,187.3 L353.2,187.1 L354.2,187.0 L355.2,186.8 L356.2,186.6 L357.2,186.5 L358.2,186.3 L359.2,186.1 L360.2,186.0 L361.2,185.8 L362.2,185.6 L363.2,185.5 L364.2,185.3 L365.2,185.2 L366.2,185.0 L367.2,184.8 L368.2,184.7 L369.2,184.5 L370.2,184.3 L371.2,184.2 L372.2,184.0 L373.2,183.8 L374.2,183.7 L375.2,183.5 L376.2,183.3 L377.2,183.2 L378.2,183.0 L379.2,182.8 L380.2,182.7 L381.2,182.5 L382.2,182.4 L383.2,182.2 L384.2,182.0 L385.2,181.9 L386.2,181.7 L387.2,181.5 L388.2,181.4 L389.2,181.2 L390.2,181.0 L391.2,180.9 L392.2,180.7 L393.2,180.5 L394.2,180.4 L395.2,180.2 L396.2,180.0 L397.2,179.9 L398.2,179.7 L399.2,179.5 L400.2,179.4 L401.2,179.2 L402.2,179.0 L403.2,178.9 L404.2,178.7 L405.2,178.5 L406.2,178.4 L407.2,178.2 L408.2,178.0 L409.2,177.9 L410.2,177.7 L411.2,177.5 L412.2,177.4 L413.2,177.2 L414.2,177.0 L415.2,176.9 L416.2,176.7 L417.2,176.5 L418.2,176.4 L419.2,176.2 L420.2,176.0 L421.2,175.8 L422.2,175.7 L423.2,175.5 L424.2,175.3 L425.2,175.2 L426.2,175.0 L427.2,174.8 L428.2,174.7 L429.2,174.5 L430.2,174.3 L431.2,174.2 L432.2,174.0 L433.2,173.8 L434.2,173.7 L435.2,173.5 L436.2,173.3 L437.2,173.2 L438.2,173.0 L439.2,172.8 L440.2,172.6 L441.2,172.5 L442.2,172.3 L443.2,172.1 L444.2,172.0 L445.2,171.8 L446.2,171.6 L447.2,171.5 L448.2,171.3 L449.2,171.1 L450.2,170.9 L451.2,170.8 L452.2,170.6 L453.2,170.4 L454.2,170.3 L455.2,170.1 L456.2,169.9 L457.2,169.8 L458.2,169.6 L459.2,169.4 L460.2,169.2 L461.2,169.1 L462.2,168.9 L463.2,168.7 L464.2,168.6 L465.2,168.4 L466.2,168.2 L467.2,168.1 L468.2,167.9 L469.2,167.7 L470.2,167.5 L471.2,167.4 L472.2,167.2 L473.2,167.0 L474.2,166.9 L475.2,166.7 L476.2,166.5 L477.2,166.3 L478.2,166.2 L479.2,166.0 L480.2,165.8 L481.2,165.7 L482.2,165.5 L483.2,165.3 L484.2,165.1 L485.2,165.0 L486.2,164.8 L487.2,164.6 L488.2,164.5 L489.2,164.3 L490.2,164.1 L491.2,163.9 L492.2,163.8 L493.2,163.6 L494.2,163.4 L495.2,163.3 L496.2,163.1 L497.2,162.9 L498.2,162.7 L499.2,162.6 L500.2,162.4 L501.2,162.2 L502.2,162.1 L503.2,161.9 L504.2,161.7 L505.2,161.5 L506.2,161.4 L507.2,161.2 L508.2,161.0 L509.2,160.8 L510.2,160.7 L511.2,160.5 L512.2,160.3 L513.2,160.2 L514.2,160.0 L515.2,159.8 L516.2,159.6 L517.2,159.5 L518.2,159.3 L519.2,159.1 L520.2,158.9 L521.2,158.8 L522.2,158.6 L523.2,158.4 L524.2,158.3 L525.2,158.1 L526.2,157.9 L527.2,157.7 L528.2,157.6 L529.2,157.4 L530.2,157.2 L531.2,157.0 L532.2,156.9 L533.2,156.7 L534.2,156.5 L535.2,156.4 L536.2,156.2 L537.2,156.0 L538.2,155.8 L539.2,155.7 L540.2,155.5 L541.2,155.3 L542.2,155.1 L543.2,155.0 L544.2,154.8 L545.2,154.6 L546.2,154.4 L547.2,154.3 L548.2,154.1 L549.2,153.9 L550.2,153.7 L551.2,153.6 L552.2,153.4 L553.2,153.2 L554.2,153.1 L555.2,152.9 L556.2,152.7 L557.2,152.5 L558.2,152.4 L559.2,152.2 L560.2,152.0 L561.2,151.8 L562.2,151.7 L563.2,151.5 L564.2,151.3 L565.2,151.1 L566.2,151.0 L567.2,150.8 L568.2,150.6 L569.2,150.4 L570.2,150.3 L571.2,150.1 L572.2,149.9 L573.2,149.8 L574.2,149.6 L575.2,149.4 L576.2,149.2 L577.2,149.1 L578.2,148.9 L579.2,148.7 L580.2,148.5 L581.2,148.4 L582.0,148.2" stroke="#029e73"/>
<path d="M82.2,152.5 L83.2,152.9 L84.2,153.2 L85.2,153.5 L86.2,153.8 L87.2,154.0 L88.2,154.3 L89.2,154.5 L90.2,154.7 L91.2,154.9 L92.2,155.0 L93.2,155.1 L94.2,155.2 L95.2,155.3 L96.2,155.4 L97.2,155.4 L98.2,155.4 L99.2,155.4 L100.2,155.4 L101.2,155.3 L102.2,155.2 L103.2,155.1 L104.2,154.9 L105.2,154.8 L106.2,154.6 L107.2,154.4 L108.2,154.1 L109.2,153.9 L110.2,153.6 L111.2,153.3 L112.2,153.0 L113.2,152.6 L114.2,152.3 L115.2,151.9 L116.2,151.6 L117.2,151.2 L118.2,150.8 L119.2,150.5 L120.2,150.1 L121.2,149.7 L122.2,149.4 L123.2,149.0 L124.2,148.7 L125.2,148.4 L126.2,148.1 L127.2,147.8 L128.2,147.5 L129.2,147.3 L130.2,147.0 L131.2,146.8 L132.2,146.7 L133.2,146.5 L134.2,146.4 L135.2,146.3 L136.2,146.3 L137.2,146.2 L138.2,146.2 L139.2,146.3 L140.2,146.3 L141.2,146.4 L142.2,146.5 L143.2,146.6 L144.2,146.8 L145.2,147.0 L146.2,147.2 L147.2,147.4 L148.2,147.7 L149.2,147.9 L150.2,148.2 L151.2,148.5 L152.2,148.9 L153.2,149.2 L154.2,149.6 L155.2,149.9 L156.2,150.3 L157.2,150.7 L158.2,151.0 L159.2,151.4 L160.2,151.8 L161.2,152.2 L162.2,152.6 L163.2,153.0 L164.2,153.3 L165.2,153.7 L166.2,154.0 L167.2,154.4 L168.2,154.7 L169.2,155.1 L170.2,155.4 L171.2,155.7 L172.2,156.0 L173.2,156.3 L174.2,156.6 L175.2,156.9 L176.2,157.2 L177.2,157.4 L178.2,157.7 L179.2,158.0 L180.2,158.2 L181.2,158.5 L182.2,158.8 L183.2,159.0 L184.2,159.3 L185.2,159.5 L186.2,159.8 L187.2,160.1 L188.2,160.3 L189.2,160.6 L190.2,160.8 L191.2,161.1 L192.2,161.3 L193.2,161.6 L194.2,161.9 L195.2,162.1 L196.2,162.4 L197.2,162.6 L198.2,162.9 L199.2,163.1 L200.2,163.4 L201.2,163.6 L202.2,163.9 L203.2,164.2 L204.2,164.4 L205.2,164.7 L206.2,164.9 L207.2,165.2 L208.2,165.4 L209.2,165.7 L210.2,166.0 L211.2,166.2 L212.2,166.5 L213.2,166.7 L214.2,167.0 L215.2,167.2 L216.2,167.5 L217.2,167.8 L218.2,168.0 L219.2,168.3 L220.2,168.5 L221.2,168.8 L222.2,169.1 L223.2,169.3 L224.2,169.6 L225.2,169.8 L226.2,170.1 L227.2,170.4 L228.2,170.6 L229.2,170.9 L230.2,171.2 L231.2,171.4 L232.2,171.7 L233.2,171.9 L234.2,172.2 L235.2,172.5 L236.2,172.7 L237.2,173.0 L238.2,173.3 L239.2,173.5 L240.2,173.8 L241.2,174.0 L242.2,174.3 L243.2,174.6 L244.2,174.8 L245.2,175.1 L246.2,175.3 L247.2,175.6 L248.2,175.9 L249.2,176.1 L250.2,176.4 L251.2,176.6 L252.2,176.9 L253.2,177.1 L254.2,177.4 L255.2,177.6 L256.2,177.9 L257.2,178.1 L258.2,178.4 L259.2,178.6 L260.2,178.9 L261.2,179.1 L262.2,179.4 L263.2,179.6 L264.2,179.9 L265.2,180.1 L266.2,180.4 L267.2,180.6 L268.2,180.9 L269.2,181.1 L270.2,181.3 L271.2,181.6 L272.2,181.8 L273.2,182.0 L274.2,182.3 L275.2,182.5 L276.2,182.7 L277.2,183.0 L278.2,183.2 L279.2,183.4 L280.2,183.6 L281.2,183.9 L282.2,184.1 L283.2,184.3 L284.2,184.5 L285.2,184.7 L286.2,184.9 L287.2,185.2 L288.2,185.4 L289.2,185.6 L290.2,185.8 L291.2,186.0 L292.2,186.2 L293.2,186.4 L294.2,186.6 L295.2,186.8 L296.2,187.0 L297.2,187.2 L298.2,187.4 L299.2,187.6 L300.2,187.7 L301.2,187.9 L302.2,188.1 L303.2,188.3 L304.2,188.5 L305.2,188.7 L306.2,188.9 L307.2,189.0 L308.2,189.2 L309.2,189.4 L310.2,189.6 L311.2,189.7 L312.2,189.9 L313.2,190.1 L314.2,190.3 L315.2,190.4 L316.2,190.6 L317.2,190.8 L318.2,190.9 L319.2,191.1 L320.2,191.3 L321.2,191.4 L322.2,191.6 L323.2,191.8 L324.2,191.9 L325.2,192.1 L326.2,192.2 L327.2,192.4 L328.2,192.5 L329.2,192.7 L330.2,192.9 L331.2,193.0 L332.2,193.2 L333.2,193.3 L334.2,193.5 L335.2,193.6 L336.2,193.8 L337.2,193.9 L338.2,194.1 L339.2,194.2 L340.2,194.4 L341.2,194.5 L342.2,194.7 L343.2,194.8 L344.2,195.0 L345.2,195.1 L346.2,195.3 L347.2,195.4 L348.2,195.6 L349.2,195.7 L350.2,195.9 L351.2,196.0 L352.2,196.2 L353.2,196.3 L354.2,196.4 L355.2,196.6 L356.2,196.7 L357.2,196.9 L358.2,197.0 L359.2,197.1 L360.2,197.3 L361.2,197.4 L362.2,197.6 L363.2,197.7 L364.2,197.8 L365.2,198.0 L366.2,198.1 L367.2,198.2 L368.2,198.4 L369.2,198.5 L370.2,198.7 L371.2,198.8 L372.2,198.9 L373.2,199.1 L374.2,199.2 L375.2,199.3 L376.2,199.4 L377.2,199.6 L378.2,199.7 L379.2,199.8 L380.2,200.0 L381.2,200.1 L382.2,200.2 L383.2,200.4 L384.2,200.5 L385.2,200.6 L386.2,200.7 L387.2,200.9 L388.2,201.0 L389.2,201.1 L390.2,201.2 L391.2,201.4 L392.2,201.5 L393.2,201.6 L394.2,201.7 L395.2,201.9 L396.2,202.0 L397.2,202.1 L398.2,202.2 L399.2,202.3 L400.2,202.5 L401.2,202.6 L402.2,202.7 L403.2,202.8 L404.2,202.9 L405.2,203.1 L406.2,203.2 L407.2,203.3 L408.2,203.4 L409.2,203.5 L410.2,203.6 L411.2,203.8 L412.2,203.9 L413.2,204.0 L414.2,204.1 L415.2,204.2 L416.2,204.3 L417.2,204.4 L418.2,204.5 L419.2,204.7 L420.2,204.8 L421.2,204.9 L422.2,205.0 L423.2,205.1 L424.2,205.2 L425.2,205.3 L426.2,205.4 L427.2,205.5 L428.2,205.6 L429.2,205.7 L430.2,205.9 L431.2,206.0 L432.2,206.1 L433.2,206.2 L434.2,206.3 L435.2,206.4 L436.2,206.5 L437.2,206.6 L438.2,206.7 L439.2,206.8 L440.2,206.9 L441.2,207.0 L442.2,207.1 L443.2,207.2 L444.2,207.3 L445.2,207.4 L446.2,207.5 L447.2,207.6 L448.2,207.7 L449.2,207.8 L450.2,207.9 L451.2,208.0 L452.2,208.1 L453.2,208.2 L454.2,208.3 L455.2,208.4 L456.2,208.5 L457.2,208.6 L458.2,208.7 L459.2,208.8 L460.2,208.8 L461.2,208.9 L462.2,209.0 L463.2,209.1 L464.2,209.2 L465.2,209.3 L466.2,209.4 L467.2,209.5 L468.2,209.6 L469.2,209.7 L470.2,209.8 L471.2,209.9 L472.2,209.9 L473.2,210.0 L474.2,210.1 L475.2,210.2 L476.2,210.3 L477.2,210.4 L478.2,210.5 L479.2,210.6 L480.2,210.6 L481.2,210.7 L482.2,210.8 L483.2,210.9 L484.2,211.0 L485.2,211.1 L486.2,211.2 L487.2,211.2 L488.2,211.3 L489.2,211.4 L490.2,211.5 L491.2,211.6 L492.2,211.6 L493.2,211.7 L494.2,211.8 L495.2,211.9 L496.2,212.0 L497.2,212.1 L498.2,212.1 L499.2,212.2 L500.2,212.3 L501.2,212.4 L502.2,212.4 L503.2,212.5 L504.2,212.6 L505.2,212.7 L506.2,212.8 L507.2,212.8 L508.2,212.9 L509.2,213.0 L510.2,213.1 L511.2,213.1 L512.2,213.2 L513.2,213.3 L514.2,213.4 L515.2,213.4 L516.2,213.5 L517.2,213.6 L518.2,213.6 L519.2,213.7 L520.2,213.8 L521.2,213.9 L522.2,213.9 L523.2,214.0 L524.2,214.1 L525.2,214.1 L526.2,214.2 L527.2,214.3 L528.2,214.3 L529.2,214.4 L530.2,214.5 L531.2,214.6 L532.2,214.6 L533.2,214.7 L534.2,214.8 L535.2,214.8 L536.2,214.9 L537.2,215.0 L538.2,215.0 L539.2,215.1 L540.2,215.1 L541.2,215.2 L542.2,215.3 L543.2,215.3 L544.2,215.4 L545.2,215.5 L546.2,215.5 L547.2,215.6 L548.2,215.7 L549.2,215.7 L550.2,215.8 L551.2,215.8 L552.2,215.9 L553.2,216.0 L554.2,216.0 L555.2,216.1 L556.2,216.1 L557.2,216.2 L558.2,216.3 L559.2,216.3 L560.2,216.4 L561.2,216.4 L562.2,216.5 L563.2,216.6 L564.2,216.6 L565.2,216.7 L566.2,216.7 L567.2,216.8 L568.2,216.8 L569.2,216.9 L570.2,217.0 L571.2,217.0 L572.2,217.1 L573.2,217.1 L574.2,217.2 L575.2,217.2 L576.2,217.3 L577.2,217.3 L578.2,217.4 L579.2,217.5 L580.2,217.5 L581.2,217.6 L582.0,217.6" stroke="#56b4e9"/>
<path d="M82.2,289.6 L83.2,289.7 L84.2,289.8 L85.2,289.9 L86.2,290.0 L87.2,290.0 L88.2,290.0 L89.2,290.0 L90.2,289.9 L91.2,289.8 L92.2,289.7 L93.2,289.6 L94.2,289.4 L95.2,289.2 L96.2,289.0 L97.2,288.8 L98.2,288.5 L99.2,288.2 L100.2,287.9 L101.2,287.5 L102.2,287.2 L103.2,286.8 L104.2,286.3 L105.2,285.9 L106.2,285.4 L107.2,284.9 L108.2,284.4 L109.2,283.9 L110.2,283.3 L111.2,282.8 L112.2,282.2 L113.2,281.5 L114.2,280.9 L115.2,280.2 L116.2,279.5 L117.2,278.8 L118.2,278.1 L119.2,277.3 L120.2,276.6 L121.2,275.8 L122.2,275.0 L123.2,274.2 L124.2,273.3 L125.2,272.5 L126.2,271.6 L127.2,270.7 L128.2,269.8 L129.2,268.8 L130.2,267.9 L131.2,266.9 L132.2,265.9 L133.2,264.9 L134.2,263.9 L135.2,262.9 L136.2,261.9 L137.2,260.8 L138.2,259.8 L139.2,258.7 L140.2,257.6 L141.2,256.5 L142.2,255.4 L143.2,254.2 L144.2,253.1 L145.2,252.0 L146.2,250.8 L147.2,249.6 L148.2,248.5 L149.2,247.3 L150.2,246.1 L151.2,244.9 L152.2,243.7 L153.2,242.4 L154.2,241.2 L155.2,240.0 L156.2,238.7 L157.2,237.5 L158.2,236.2 L159.2,235.0 L160.2,233.7 L161.2,232.5 L162.2,231.2 L163.2,229.9 L164.2,228.7 L165.2,227.4 L166.2,226.1 L167.2,224.8 L168.2,223.5 L169.2,222.2 L170.2,221.0 L171.2,219.7 L172.2,218.4 L173.2,217.1 L174.2,215.8 L175.2,214.5 L176.2,213.2 L177.2,212.0 L178.2,210.7 L179.2,209.4 L180.2,208.1 L181.2,206.9 L182.2,205.6 L183.2,204.4 L184.2,203.1 L185.2,201.9 L186.2,200.8 L187.2,199.6 L188.2,198.5 L189.2,197.4 L190.2,196.4 L191.2,195.4 L192.2,194.4 L193.2,193.5 L194.2,192.5 L195.2,191.6 L196.2,190.7 L197.2,189.8 L198.2,188.9 L199.2,188.0 L200.2,187.1 L201.2,186.1 L202.2,185.2 L203.2,184.2 L204.2,183.3 L205.2,182.3 L206.2,181.3 L207.2,180.3 L208.2,179.3 L209.2,178.3 L210.2,177.3 L211.2,176.3 L212.2,175.3 L213.2,174.3 L214.2,173.3 L215.2,172.3 L216.2,171.3 L217.2,170.3 L218.2,169.4 L219.2,168.4 L220.2,167.5 L221.2,166.5 L222.2,165.6 L223.2,164.7 L224.2,163.8 L225.2,162.9 L226.2,162.1 L227.2,161.2 L228.2,160.4 L229.2,159.6 L230.2,158.9 L231.2,158.1 L232.2,157.4 L233.2,156.7 L234.2,156.0 L235.2,155.4 L236.2,154.7 L237.2,154.1 L238.2,153.5 L239.2,152.9 L240.2,152.4 L241.2,151.8 L242.2,151.3 L243.2,150.8 L244.2,150.3 L245.2,149.8 L246.2,149.4 L247.2,149.0 L248.2,148.5 L249.2,148.1 L250.2,147.7 L251.2,147.3 L252.2,147.0 L253.2,146.6 L254.2,146.3 L255.2,146.0 L256.2,145.6 L257.2,145.3 L258.2,145.0 L259.2,144.8 L260.2,144.5 L261.2,144.2 L262.2,144.0 L263.2,143.7 L264.2,143.5 L265.2,143.3 L266.2,143.0 L267.2,142.8 L268.2,142.6 L269.2,142.4 L270.2,142.2 L271.2,142.0 L272.2,141.9 L273.2,141.7 L274.2,141.5 L275.2,141.4 L276.2,141.2 L277.2,141.1 L278.2,141.0 L279.2,140.8 L280.2,140.7 L281.2,140.6 L282.2,140.5 L283.2,140.4 L284.2,140.3 L285.2,140.3 L286.2,140.2 L287.2,140.1 L288.2,140.1 L289.2,140.0 L290.2,140.0 L291.2,139.9 L292.2,139.9 L293.2,139.9 L294.2,139.8 L295.2,139.8 L296.2,139.8 L297.2,139.8 L298.2,139.8 L299.2,139.9 L300.2,139.9 L301.2,139.9 L302.2,140.0 L303.2,140.0 L304.2,140.1 L305.2,140.1 L306.2,140.2 L307.2,140.2 L308.2,140.3 L309.2,140.4 L310.2,140.5 L311.2,140.6 L312.2,140.7 L313.2,140.8 L314.2,140.9 L315.2,141.1 L316.2,141.2 L317.2,141.3 L318.2,141.5 L319.2,141.6 L320.2,141.8 L321.2,141.9 L322.2,142.1 L323.2,142.3 L324.2,142.5 L325.2,142.6 L326.2,142.8 L327.2,143.0 L328.2,143.2 L329.2,143.4 L330.2,143.6 L331.2,143.9 L332.2,144.1 L333.2,144.3 L334.2,144.5 L335.2,144.8 L336.2,145.0 L337.2,145.3 L338.2,145.5 L339.2,145.8 L340.2,146.1 L341.2,146.3 L342.2,146.6 L343.2,146.9 L344.2,147.2 L345.2,147.4 L346.2,147.7 L347.2,148.0 L348.2,148.3 L349.2,148.6 L350.2,148.9 L351.2,149.2 L352.2,149.6 L353.2,149.9 L354.2,150.2 L355.2,150.5 L356.2,150.8 L357.2,151.2 L358.2,151.5 L359.2,151.8 L360.2,152.2 L361.2,152.5 L362.2,152.8 L363.2,153.2 L364.2,153.5 L365.2,153.9 L366.2,154.2 L367.2,154.5 L368.2,154.9 L369.2,155.2 L370.2,155.6 L371.2,155.9 L372.2,156.3 L373.2,156.6 L374.2,156.9 L375.2,157.3 L376.2,157.6 L377.2,158.0 L378.2,158.3 L379.2,158.7 L380.2,159.0 L381.2,159.3 L382.2,159.7 L383.2,160.0 L384.2,160.3 L385.2,160.6 L386.2,161.0 L387.2,161.3 L388.2,161.6 L389.2,161.9 L390.2,162.2 L391.2,162.6 L392.2,162.9 L393.2,163.2 L394.2,163.5 L395.2,163.8 L396.2,164.1 L397.2,164.4 L398.2,164.7 L399.2,165.0 L400.2,165.3 L401.2,165.6 L402.2,165.9 L403.2,166.2 L404.2,166.4 L405.2,166.7 L406.2,167.0 L407.2,167.3 L408.2,167.6 L409.2,167.9 L410.2,168.1 L411.2,168.4 L412.2,168.7 L413.2,169.0 L414.2,169.2 L415.2,169.5 L416.2,169.8 L417.2,170.1 L418.2,170.3 L419.2,170.6 L420.2,170.9 L421.2,171.1 L422.2,171.4 L423.2,171.7 L424.2,171.9 L425.2,172.2 L426.2,172.5 L427.2,172.7 L428.2,173.0 L429.2,173.3 L430.2,173.5 L431.2,173.8 L432.2,174.1 L433.2,174.3 L434.2,174.6 L435.2,174.9 L436.2,175.1 L437.2,175.4 L438.2,175.6 L439.2,175.9 L440.2,176.2 L441.2,176.4 L442.2,176.7 L443.2,176.9 L444.2,177.2 L445.2,177.5 L446.2,177.7 L447.2,178.0 L448.2,178.2 L449.2,178.5 L450.2,178.7 L451.2,179.0 L452.2,179.2 L453.2,179.5 L454.2,179.7 L455.2,180.0 L456.2,180.2 L457.2,180.5 L458.2,180.7 L459.2,181.0 L460.2,181.2 L461.2,181.5 L462.2,181.7 L463.2,181.9 L464.2,182.2 L465.2,182.4 L466.2,182.6 L467.2,182.9 L468.2,183.1 L469.2,183.3 L470.2,183.5 L471.2,183.8 L472.2,184.0 L473.2,184.2 L474.2,184.4 L475.2,184.6 L476.2,184.9 L477.2,185.1 L478.2,185.3 L479.2,185.5 L480.2,185.7 L481.2,185.9 L482.2,186.1 L483.2,186.3 L484.2,186.5 L485.2,186.7 L486.2,186.9 L487.2,187.1 L488.2,187.2 L489.2,187.4 L490.2,187.6 L491.2,187.8 L492.2,188.0 L493.2,188.1 L494.2,188.3 L495.2,188.5 L496.2,188.6 L497.2,188.8 L498.2,188.9 L499.2,189.1 L500.2,189.3 L501.2,189.4 L502.2,189.6 L503.2,189.7 L504.2,189.8 L505.2,190.0 L506.2,190.1 L507.2,190.2 L508.2,190.4 L509.2,190.5 L510.2,190.6 L511.2,190.7 L512.2,190.8 L513.2,190.9 L514.2,191.1 L515.2,191.2 L516.2,191.3 L517.2,191.4 L518.2,191.5 L519.2,191.6 L520.2,191.7 L521.2,191.7 L522.2,191.8 L523.2,191.9 L524.2,192.0 L525.2,192.1 L526.2,192.2 L527.2,192.2 L528.2,192.3 L529.2,192.4 L530.2,192.5 L531.2,192.5 L532.2,192.6 L533.2,192.7 L534.2,192.7 L535.2,192.8 L536.2,192.9 L537.2,192.9 L538.2,193.0 L539.2,193.0 L540.2,193.1 L541.2,193.1 L542.2,193.2 L543.2,193.3 L544.2,193.3 L545.2,193.4 L546.2,193.4 L547.2,193.4 L548.2,193.5 L549.2,193.5 L550.2,193.6 L551.2,193.6 L552.2,193.7 L553.2,193.7 L554.2,193.8 L555.2,193.8 L556.2,193.8 L557.2,193.9 L558.2,193.9 L559.2,194.0 L560.2,194.0 L561.2,194.0 L562.2,194.1 L563.2,194.1 L564.2,194.2 L565.2,194.2 L566.2,194.2 L567.2,194.3 L568.2,194.3 L569.2,194.4 L570.2,194.4 L571.2,194.4 L572.2,194.5 L573.2,194.5 L574.2,194.6 L575.2,194.6 L576.2,194.6 L577.2,194.7 L578.2,194.7 L579.2,194.8 L580.2,194.8 L581.2,194.9 L582.0,194.9" stroke="#d55e00"/>
</g>
<line x1="82.2" y1="187.7" x2="582.0" y2="187.7" stroke="#0173b2" stroke-opacity="0.7" stroke-width="4" stroke-dasharray="4 6.75"/>
<line x1="279.7" y1="6.1" x2="279.7" y2="382.7" stroke="#cc78bc" stroke-width="1.6" stroke-opacity="0.85"/>
<line x1="307.2" y1="6.1" x2="307.2" y2="382.7" stroke="#029e73" stroke-width="1.6" stroke-opacity="0.75"/>
<rect x="101.5" y="322.5" width="461" height="53.5" rx="1.5" ry="1.5" fill="#fff" fill-opacity="0.8" stroke="#cccccc" stroke-width="1"/>
<line x1="105.5" y1="331.5" x2="129.6" y2="331.5" stroke="#0173b2" stroke-width="3.2" stroke-linecap="round"/>
<text transform="translate(139.06,335.90) scale(1.0046,1)" font-size="13" fill="#1a1a1a">GW150914</text>
<line x1="105.5" y1="348.5" x2="129.6" y2="348.5" stroke="#de8f05" stroke-width="3.2" stroke-linecap="round"/>
<text transform="translate(139.06,352.90) scale(1.0077,1)" font-size="13" fill="#1a1a1a">GW151226</text>
<line x1="105.5" y1="365.5" x2="129.6" y2="365.5" stroke="#949494" stroke-width="3.2" stroke-linecap="round"/>
<text transform="translate(139.06,369.90) scale(1.0046,1)" font-size="13" fill="#1a1a1a">GW170104</text>
<line x1="223.8" y1="331.5" x2="247.9" y2="331.5" stroke="#029e73" stroke-width="3.2" stroke-linecap="round"/>
<text transform="translate(257.06,335.90) scale(1.0062,1)" font-size="13" fill="#1a1a1a">GW170608</text>
<line x1="223.8" y1="348.5" x2="247.9" y2="348.5" stroke="#56b4e9" stroke-width="3.2" stroke-linecap="round"/>
<text transform="translate(257.06,352.90) scale(1.0068,1)" font-size="13" fill="#1a1a1a">GW170809</text>
<line x1="341.4" y1="331.5" x2="365.5" y2="331.5" stroke="#d55e00" stroke-width="3.2" stroke-linecap="round"/>
<text transform="translate(374.87,335.90) scale(1.0030,1)" font-size="13" fill="#1a1a1a">GW170814</text>
<line x1="341.2" y1="348.5" x2="365.6" y2="348.5" stroke="#0173b2" stroke-opacity="0.7" stroke-width="4" stroke-dasharray="4 6.75"/>
<text transform="translate(375.20,352.90) scale(1.0596,1)" font-size="13" fill="#1a1a1a">Prior (Uniform)</text>
<line x1="486.0" y1="331.5" x2="510.8" y2="331.5" stroke="#cc78bc" stroke-width="1.6" stroke-linecap="butt"/>
<text transform="translate(519.61,335.90) scale(1.0541,1)" font-size="13" fill="#1a1a1a">Planck</text>
<line x1="486.0" y1="348.5" x2="510.8" y2="348.5" stroke="#029e73" stroke-width="1.6" stroke-linecap="butt"/>
<text transform="translate(519.10,352.90) scale(1.0379,1)" font-size="13" fill="#1a1a1a">SH0ES</text>
<g stroke="#262626" stroke-width="1.4" fill="none">
<rect x="82.2" y="6.1" width="499.8" height="376.59999999999997"/>
<line x1="76.2" y1="382.70" x2="82.2" y2="382.70" stroke-width="1.1"/>
<line x1="76.2" y1="335.62" x2="82.2" y2="335.62" stroke-width="1.1"/>
<line x1="76.2" y1="288.55" x2="82.2" y2="288.55" stroke-width="1.1"/>
<line x1="76.2" y1="241.47" x2="82.2" y2="241.47" stroke-width="1.1"/>
<line x1="76.2" y1="194.40" x2="82.2" y2="194.40" stroke-width="1.1"/>
<line x1="76.2" y1="147.33" x2="82.2" y2="147.33" stroke-width="1.1"/>
<line x1="76.2" y1="100.25" x2="82.2" y2="100.25" stroke-width="1.1"/>
<line x1="76.2" y1="53.18" x2="82.2" y2="53.18" stroke-width="1.1"/>
<line x1="76.2" y1="6.10" x2="82.2" y2="6.10" stroke-width="1.1"/>
<line x1="82.20" y1="382.7" x2="82.20" y2="388.7" stroke-width="1.1"/>
<line x1="165.50" y1="382.7" x2="165.50" y2="388.7" stroke-width="1.1"/>
<line x1="248.80" y1="382.7" x2="248.80" y2="388.7" stroke-width="1.1"/>
<line x1="332.10" y1="382.7" x2="332.10" y2="388.7" stroke-width="1.1"/>
<line x1="415.40" y1="382.7" x2="415.40" y2="388.7" stroke-width="1.1"/>
<line x1="498.70" y1="382.7" x2="498.70" y2="388.7" stroke-width="1.1"/>
<line x1="582.00" y1="382.7" x2="582.00" y2="388.7" stroke-width="1.1"/>
</g>
<g font-family='"Liberation Serif", serif'>
<text transform="translate(28.48,389.70) scale(0.9696,1)" font-size="19.5" fill="#333">0.000</text>
<text transform="translate(28.47,342.62) scale(0.9773,1)" font-size="19.5" fill="#333">0.002</text>
<text transform="translate(28.49,295.55) scale(0.9597,1)" font-size="19.5" fill="#333">0.004</text>
<text transform="translate(28.48,248.47) scale(0.9659,1)" font-size="19.5" fill="#333">0.006</text>
<text transform="translate(28.48,201.40) scale(0.9696,1)" font-size="19.5" fill="#333">0.008</text>
<text transform="translate(28.48,154.33) scale(0.9696,1)" font-size="19.5" fill="#333">0.010</text>
<text transform="translate(28.47,107.25) scale(0.9773,1)" font-size="19.5" fill="#333">0.012</text>
<text transform="translate(28.49,60.18) scale(0.9597,1)" font-size="19.5" fill="#333">0.014</text>
<text transform="translate(28.48,13.10) scale(0.9659,1)" font-size="19.5" fill="#333">0.016</text>
<text transform="translate(72.66,407.30) scale(0.9832,1)" font-size="19.5" fill="#333">20</text>
<text transform="translate(156.44,407.30) scale(0.9577,1)" font-size="19.5" fill="#333">40</text>
<text transform="translate(239.28,407.30) scale(0.9822,1)" font-size="19.5" fill="#333">60</text>
<text transform="translate(322.67,407.30) scale(0.9770,1)" font-size="19.5" fill="#333">80</text>
<text transform="translate(401.34,407.30) scale(0.9704,1)" font-size="19.5" fill="#333">100</text>
<text transform="translate(484.64,407.30) scale(0.9704,1)" font-size="19.5" fill="#333">120</text>
<text transform="translate(567.94,407.30) scale(0.9704,1)" font-size="19.5" fill="#333">140</text>
<text transform="translate(242.64,433.60) scale(0.9828,1)" font-size="22.5" font-style="italic" fill="#333">H</text>
<text transform="translate(258.68,437.00) scale(1.1228,1)" font-size="14.5" fill="#333">0</text>
<text transform="translate(274.86,433.60) scale(0.9518,1)" font-size="22.5" fill="#333">(</text>
<text transform="translate(282.38,433.60) scale(0.9724,1)" font-size="22.5" fill="#333">km</text>
<text transform="translate(317.19,433.60) scale(1.0968,1)" font-size="22.5" fill="#333">s</text>
<text transform="translate(326.58,427.10) scale(1.4080,1)" font-size="14.5" fill="#333">−</text>
<text transform="translate(338.08,426.10) scale(1.0383,1)" font-size="14.5" fill="#333">1</text>
<text transform="translate(353.35,433.60) scale(1.0050,1)" font-size="22.5" fill="#333">Mpc</text>
<text transform="translate(393.62,427.10) scale(1.4969,1)" font-size="14.5" fill="#333">−</text>
<text transform="translate(404.70,426.10) scale(1.1754,1)" font-size="14.5" fill="#333">1</text>
<text transform="translate(414.22,433.60) scale(0.9344,1)" font-size="22.5" fill="#333">)</text>
<text transform="translate(18.30,287.98) rotate(-90) scale(0.9254,1)" font-size="22.5" font-style="italic" fill="#333">p</text>
<text transform="translate(18.30,276.94) rotate(-90) scale(0.9518,1)" font-size="22.5" fill="#333">(</text>
<text transform="translate(18.30,268.46) rotate(-90) scale(1.0114,1)" font-size="22.5" font-style="italic" fill="#333">H</text>
<text transform="translate(21.80,252.48) rotate(-90) scale(1.0414,1)" font-size="14.5" fill="#333">0</text>
<text transform="translate(18.30,243.43) rotate(-90) scale(0.8652,1)" font-size="22.5" fill="#333">)</text>
<text transform="translate(18.30,228.15) rotate(-90) scale(1.1594,1)" font-size="22.5" fill="#333">(</text>
<text transform="translate(18.30,219.20) rotate(-90) scale(0.9331,1)" font-size="22.5" fill="#333">km</text>
<text transform="translate(11.10,191.46) rotate(-90) scale(1.3339,1)" font-size="14.5" fill="#333">−</text>
<text transform="translate(10.60,179.95) rotate(-90) scale(0.9011,1)" font-size="14.5" fill="#333">1</text>
<text transform="translate(18.30,165.61) rotate(-90) scale(1.0968,1)" font-size="22.5" fill="#333">s</text>
<text transform="translate(18.30,149.14) rotate(-90) scale(0.9899,1)" font-size="22.5" fill="#333">Mpc</text>
<text transform="translate(18.30,108.39) rotate(-90) scale(0.9518,1)" font-size="22.5" fill="#333">)</text>
</g>
</svg>
</body></html>
